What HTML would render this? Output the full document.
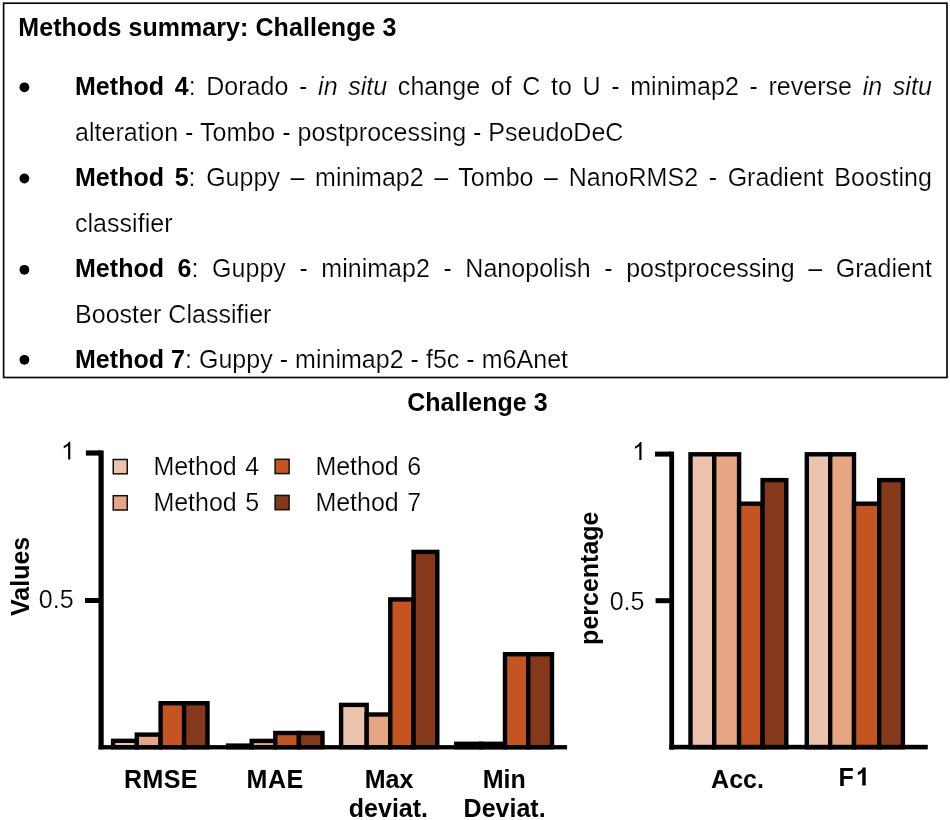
<!DOCTYPE html>
<html><head><meta charset="utf-8"><title>Methods summary: Challenge 3</title>
<style>
html,body{margin:0;padding:0;background:#fff;}
body{width:950px;height:820px;position:relative;overflow:hidden;font-family:"Liberation Sans",sans-serif;color:#000;}
svg{position:absolute;left:0;top:0;will-change:transform;}
svg text{font-family:"Liberation Sans",sans-serif;font-size:25px;fill:#000;}
.ln{will-change:transform;position:absolute;left:74.6px;width:856.9px;letter-spacing:0.03px;height:40.0px;line-height:40.0px;font-size:25px;white-space:nowrap;-webkit-text-stroke:0.2px #fff;}
.ln b{-webkit-text-stroke:0;}
.j{white-space:normal;text-align:justify;text-align-last:justify;}
</style></head><body>
<svg width="950" height="820" viewBox="0 0 950 820">
<rect x="3.6" y="3.2" width="943.4" height="374.3" fill="none" stroke="#0a0a0a" stroke-width="1.7"/>
<circle cx="24.4" cy="87.30" r="4.9" fill="#000"/>
<circle cx="24.4" cy="178.50" r="4.9" fill="#000"/>
<circle cx="24.4" cy="269.80" r="4.9" fill="#000"/>
<circle cx="24.4" cy="359.80" r="4.9" fill="#000"/>
<rect x="113.10" y="740.80" width="23.70" height="6.40" fill="#ECC3AC" stroke="#000" stroke-width="4.4"/>
<rect x="136.80" y="734.60" width="23.80" height="12.60" fill="#E6A683" stroke="#000" stroke-width="4.4"/>
<rect x="160.60" y="703.20" width="23.50" height="44.00" fill="#C45422" stroke="#000" stroke-width="4.4"/>
<rect x="184.10" y="703.20" width="23.40" height="44.00" fill="#86391A" stroke="#000" stroke-width="4.4"/>
<rect x="228.10" y="745.60" width="23.60" height="1.60" fill="#ECC3AC" stroke="#000" stroke-width="4.4"/>
<rect x="251.70" y="740.90" width="23.60" height="6.30" fill="#E6A683" stroke="#000" stroke-width="4.4"/>
<rect x="275.30" y="733.00" width="23.60" height="14.20" fill="#C45422" stroke="#000" stroke-width="4.4"/>
<rect x="298.90" y="733.00" width="23.60" height="14.20" fill="#86391A" stroke="#000" stroke-width="4.4"/>
<rect x="341.10" y="704.90" width="25.60" height="42.30" fill="#ECC3AC" stroke="#000" stroke-width="4.4"/>
<rect x="366.70" y="714.50" width="23.60" height="32.70" fill="#E6A683" stroke="#000" stroke-width="4.4"/>
<rect x="390.30" y="599.40" width="23.30" height="147.80" fill="#C45422" stroke="#000" stroke-width="4.4"/>
<rect x="413.60" y="551.90" width="23.70" height="195.30" fill="#86391A" stroke="#000" stroke-width="4.4"/>
<rect x="456.20" y="743.80" width="24.80" height="3.40" fill="#ECC3AC" stroke="#000" stroke-width="4.4"/>
<rect x="481.00" y="743.80" width="24.00" height="3.40" fill="#E6A683" stroke="#000" stroke-width="4.4"/>
<rect x="505.00" y="654.20" width="23.30" height="93.00" fill="#C45422" stroke="#000" stroke-width="4.4"/>
<rect x="528.30" y="654.20" width="23.70" height="93.00" fill="#86391A" stroke="#000" stroke-width="4.4"/>
<rect x="98.5" y="450.4" width="5.2" height="299" fill="#000"/>
<rect x="98.6" y="745.1" width="468.5" height="4.3" fill="#000"/>
<rect x="85.9" y="450.4" width="15" height="5.2" fill="#000"/>
<rect x="85.0" y="598.0" width="15" height="5" fill="#000"/>
<rect x="690.50" y="454.30" width="23.70" height="292.90" fill="#ECC3AC" stroke="#000" stroke-width="4.4"/>
<rect x="714.20" y="454.30" width="24.90" height="292.90" fill="#E6A683" stroke="#000" stroke-width="4.4"/>
<rect x="739.10" y="503.70" width="23.50" height="243.50" fill="#C45422" stroke="#000" stroke-width="4.4"/>
<rect x="762.60" y="480.10" width="23.70" height="267.10" fill="#86391A" stroke="#000" stroke-width="4.4"/>
<rect x="806.80" y="454.30" width="23.40" height="292.90" fill="#ECC3AC" stroke="#000" stroke-width="4.4"/>
<rect x="830.20" y="454.30" width="23.80" height="292.90" fill="#E6A683" stroke="#000" stroke-width="4.4"/>
<rect x="854.00" y="503.70" width="25.20" height="243.50" fill="#C45422" stroke="#000" stroke-width="4.4"/>
<rect x="879.20" y="480.10" width="23.70" height="267.10" fill="#86391A" stroke="#000" stroke-width="4.4"/>
<rect x="669.3" y="451.6" width="4.8" height="298" fill="#000"/>
<rect x="669.3" y="744.8" width="258.5" height="4.6" fill="#000"/>
<rect x="655.0" y="451.6" width="16" height="5" fill="#000"/>
<rect x="655.6" y="598.2" width="16" height="5" fill="#000"/>
<rect x="113.25" y="459.5" width="14.0" height="14.3" fill="#ECC3AC" stroke="#111" stroke-width="1.5"/>
<rect x="113.25" y="495.7" width="14.0" height="14.3" fill="#E6A683" stroke="#111" stroke-width="1.5"/>
<rect x="275.1" y="459.3" width="14.0" height="14.3" fill="#C45422" stroke="#111" stroke-width="1.5"/>
<rect x="275.1" y="495.4" width="14.0" height="14.3" fill="#86391A" stroke="#111" stroke-width="1.5"/>
<text x="18.3" y="36.45" text-anchor="start" font-weight="700" letter-spacing="0.06">Methods summary: Challenge 3</text>
<text x="477.4" y="410.9" text-anchor="middle" font-weight="700">Challenge 3</text>
<text x="153.4" y="474.8" text-anchor="start" stroke="#fff" stroke-width="0.2" word-spacing="1.5">Method 4</text>
<text x="153.4" y="510.5" text-anchor="start" stroke="#fff" stroke-width="0.2" word-spacing="1.5">Method 5</text>
<text x="315.4" y="474.8" text-anchor="start" stroke="#fff" stroke-width="0.2" word-spacing="1.5">Method 6</text>
<text x="315.4" y="510.5" text-anchor="start" stroke="#fff" stroke-width="0.2" word-spacing="1.5">Method 7</text>
<path transform="translate(60.99 459.6) scale(0.012207 -0.012207)" d="M763 0H583V1147Q518 1085 412.5 1023Q307 961 223 930V1104Q374 1175 487 1276Q600 1377 647 1472H763Z" fill="#000"/>
<text x="73.6" y="608.0" text-anchor="end" stroke="#fff" stroke-width="0.2">0.5</text>
<path transform="translate(632.19 460.0) scale(0.012207 -0.012207)" d="M763 0H583V1147Q518 1085 412.5 1023Q307 961 223 930V1104Q374 1175 487 1276Q600 1377 647 1472H763Z" fill="#000"/>
<text x="644.4" y="609.8" text-anchor="end" stroke="#fff" stroke-width="0.2">0.5</text>
<text x="161.0" y="787.8" text-anchor="middle" font-weight="700" letter-spacing="0.4">RMSE</text>
<text x="275.1" y="787.8" text-anchor="middle" font-weight="700" letter-spacing="0.5">MAE</text>
<text x="389.1" y="787.6" text-anchor="middle" font-weight="700">Max</text>
<text x="388.4" y="816.9" text-anchor="middle" font-weight="700">deviat.</text>
<text x="504.3" y="787.6" text-anchor="middle" font-weight="700">Min</text>
<text x="504.6" y="816.9" text-anchor="middle" font-weight="700">Deviat.</text>
<text x="737.5" y="788.0" text-anchor="middle" font-weight="700">Acc.</text>
<text x="838.4" y="785.5" text-anchor="start" font-weight="700">F</text>
<path transform="translate(855.86 785.5) scale(0.012207 -0.012207)" d="M806 0H525V1059Q371 915 162 846V1101Q272 1137 401 1237.5Q530 1338 578 1472H806Z" fill="#000"/>
<text transform="translate(29.4 576.4) rotate(-90)" text-anchor="middle" font-weight="700">Values</text>
<text transform="translate(597.9 578.2) rotate(-90)" text-anchor="middle" font-weight="700">percentage</text>
</svg>
<div class="ln j" style="top:66.04px"><b>Method 4</b>: Dorado - <i>in situ</i> change of C to U - minimap2 - reverse <i>in situ</i></div>
<div class="ln" style="top:111.84px">alteration - Tombo - postprocessing - PseudoDeC</div>
<div class="ln j" style="top:156.94px"><b>Method 5</b>: Guppy &ndash; minimap2 &ndash; Tombo &ndash; NanoRMS2 - Gradient Boosting</div>
<div class="ln" style="top:202.74px">classifier</div>
<div class="ln j" style="top:248.24px"><b>Method 6</b>: Guppy - minimap2 - Nanopolish - postprocessing &ndash; Gradient</div>
<div class="ln" style="top:293.64px">Booster Classifier</div>
<div class="ln" style="top:339.34px"><b>Method 7</b>: Guppy - minimap2 - f5c - m6Anet</div>
</body></html>
